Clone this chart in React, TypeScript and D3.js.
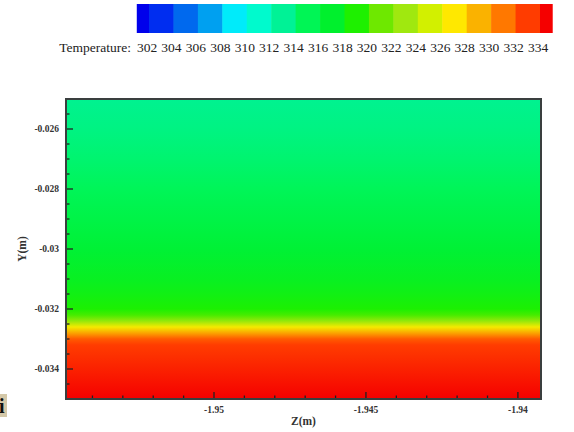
import React, { useEffect, useRef } from 'react'
import * as d3 from 'd3'

// contour levels shown on the legend
const levels = [302, 304, 306, 308, 310, 312, 314, 316, 318, 320, 322, 324, 326, 328, 330, 332, 334]
// flood colour of each band: below 302, 302-304 ... 332-334, above 334
const bandColors = [
  'rgb(0,0,235)', 'rgb(0,45,240)', 'rgb(0,105,238)', 'rgb(0,160,240)', 'rgb(0,235,250)',
  'rgb(0,250,205)', 'rgb(0,242,150)', 'rgb(0,245,85)', 'rgb(0,240,45)', 'rgb(30,240,0)',
  'rgb(110,232,0)', 'rgb(160,232,15)', 'rgb(210,240,0)', 'rgb(255,232,0)', 'rgb(250,178,0)',
  'rgb(255,120,0)', 'rgb(255,60,0)', 'rgb(245,0,0)',
]

// temperature profile across the channel (uniform along Z)
const profileY = [-0.025, -0.026, -0.027, -0.028, -0.029, -0.03, -0.031, -0.0315, -0.032, -0.0322, -0.0324, -0.0326, -0.0328, -0.033, -0.0332, -0.034, -0.035]
const profileT = [313.2, 313.6, 314.2, 314.9, 315.7, 316.6, 317.5, 318.1, 318.9, 320, 322.5, 326.5, 329.5, 332, 333, 333.9, 335.4]

const yTicks = [-0.026, -0.028, -0.03, -0.032, -0.034]
const yTickLabels = ['-0.026', '-0.028', '-0.03', '-0.032', '-0.034']
const xTicks = [-1.95, -1.945, -1.94]
const xTickLabels = ['-1.95', '-1.945', '-1.94']

const App = () => {
  const ref = useRef(null)

  useEffect(() => {
    const svg = d3.select(ref.current)
    svg.selectAll('*').remove()

    const left = 66, right = 541, top = 99, bottom = 399

    const x = d3.scaleLinear().domain([-1.95487, -1.93924]).range([left, right])
    const y = d3.scaleLinear().domain([-0.025, -0.035]).range([top, bottom])

    // continuous colour: band colour at each band's mid temperature
    const mids = [levels[0] - 1, ...levels.slice(0, -1).map((l) => l + 1), levels[levels.length - 1] + 1]
    const color = d3.scaleLinear<string>().domain(mids).range(bandColors).clamp(true)

    // legend
    const lx = d3.scaleLinear().domain([302, 334]).range([149, 540])
    const half = (lx(304) - lx(302)) / 2
    const bandEdges = [lx(302) - half, ...levels.map((l) => lx(l)), lx(334) + half]
    svg.append('g')
      .selectAll('rect')
      .data(bandColors)
      .enter()
      .append('rect')
      .attr('x', (d, i) => bandEdges[i])
      .attr('y', 4)
      .attr('width', (d, i) => bandEdges[i + 1] - bandEdges[i] + 0.5)
      .attr('height', 29)
      .attr('fill', (d) => d)

    const legText = svg.append('g')
      .attr('font-family', '"Liberation Serif", "Times New Roman", serif')
      .attr('font-size', 13.5)
      .attr('fill', '#222')
    legText.append('text')
      .attr('x', 131).attr('y', 52)
      .attr('text-anchor', 'end')
      .text('Temperature:')
    legText.selectAll('text.lv')
      .data(levels)
      .enter()
      .append('text')
      .attr('class', 'lv')
      .attr('x', (d) => lx(d) - 2)
      .attr('y', 52)
      .attr('text-anchor', 'middle')
      .text((d) => d)

    // flood contour as vertical gradient
    const grad = svg.append('defs').append('linearGradient')
      .attr('id', 'tgrad')
      .attr('x1', 0).attr('y1', 0).attr('x2', 0).attr('y2', 1)
    grad.selectAll('stop')
      .data(profileY)
      .enter()
      .append('stop')
      .attr('offset', (d) => (y(d) - top) / (bottom - top))
      .attr('stop-color', (d, i) => color(profileT[i]))

    svg.append('rect')
      .attr('x', left).attr('y', top)
      .attr('width', right - left).attr('height', bottom - top)
      .attr('fill', 'url(#tgrad)')

    // ticks (inward)
    const tickG = svg.append('g').attr('stroke', '#222').attr('stroke-width', 1.3)
    const yMinor = d3.range(-0.0345, -0.02501, 0.0005)
    tickG.selectAll('line.ym')
      .data(yMinor)
      .enter()
      .append('line')
      .attr('x1', left).attr('x2', (d) => left + (yTicks.some((t) => Math.abs(t - d) < 1e-7) ? 7 : 3.5))
      .attr('y1', (d) => y(d)).attr('y2', (d) => y(d))
    const xMinor = d3.range(-1.954, -1.9392, 0.001)
    tickG.selectAll('line.xm')
      .data(xMinor)
      .enter()
      .append('line')
      .attr('y1', bottom).attr('y2', (d) => bottom - (xTicks.some((t) => Math.abs(t - d) < 1e-7) ? 7 : 3.5))
      .attr('x1', (d) => x(d)).attr('x2', (d) => x(d))

    // frame
    svg.append('rect')
      .attr('x', left).attr('y', top)
      .attr('width', right - left).attr('height', bottom - top)
      .attr('fill', 'none')
      .attr('stroke', '#3a3f3f')
      .attr('stroke-width', 2)

    // tick labels
    const axText = svg.append('g')
      .attr('font-family', '"Liberation Serif", "Times New Roman", serif')
      .attr('font-weight', 'bold')
      .attr('font-size', 9.5)
      .attr('fill', '#333')
    axText.selectAll('text.yl')
      .data(yTicks)
      .enter()
      .append('text')
      .attr('x', 59)
      .attr('y', (d) => y(d) + 3)
      .attr('text-anchor', 'end')
      .text((d, i) => yTickLabels[i])
    axText.selectAll('text.xl')
      .data(xTicks)
      .enter()
      .append('text')
      .attr('x', (d) => x(d))
      .attr('y', 413)
      .attr('text-anchor', 'middle')
      .text((d, i) => xTickLabels[i])

    axText.append('text')
      .attr('x', (left + right) / 2)
      .attr('y', 425)
      .attr('text-anchor', 'middle')
      .attr('font-size', 11.5)
      .text('Z(m)')
    axText.append('text')
      .attr('transform', `translate(26, ${(top + bottom) / 2}) rotate(-90)`)
      .attr('text-anchor', 'middle')
      .attr('font-size', 11.5)
      .text('Y(m)')

    // cropped label at the lower left corner
    svg.append('rect')
      .attr('x', 0).attr('y', 394)
      .attr('width', 7).attr('height', 23)
      .attr('fill', 'rgb(212,200,168)')
    svg.append('text')
      .attr('x', -1).attr('y', 413)
      .attr('font-family', '"Liberation Serif", serif')
      .attr('font-weight', 'bold')
      .attr('font-size', 20)
      .attr('fill', '#111')
      .text('i')
  }, [])

  return (
    <div style={{ position: 'absolute', left: 0, top: 0 }}>
      <svg ref={ref} width={574} height={432} style={{ display: 'block', background: '#fff' }} />
    </div>
  )
}

export default App
